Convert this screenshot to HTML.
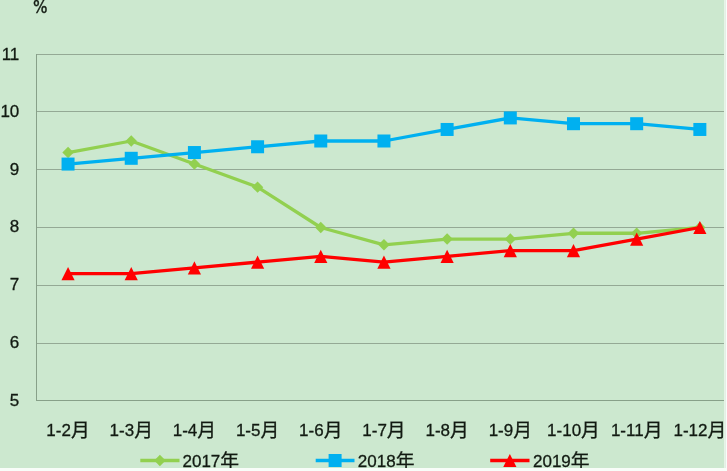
<!DOCTYPE html>
<html><head><meta charset="utf-8"><title>chart</title>
<style>
html,body{margin:0;padding:0;background:#F8FDF9;}
body{width:727px;height:471px;overflow:hidden;}
svg{display:block;will-change:transform;}
.c{font-size:18.8px;}
.t{font-family:"Liberation Sans","Noto Sans CJK SC",sans-serif;font-size:17px;fill:#121a12;stroke:#121a12;stroke-width:0.3px;}
</style></head><body>
<svg width="727" height="471" viewBox="0 0 727 471">
<defs><clipPath id="clp"><rect x="0" y="0" width="724" height="468"/></clipPath></defs>
<g clip-path="url(#clp)">
<rect x="0" y="0" width="724" height="468" fill="#CCE8CF"/>
<rect x="36" y="54" width="689" height="1" fill="#94A995"/>
<rect x="36" y="111" width="689" height="1" fill="#94A995"/>
<rect x="36" y="169" width="689" height="1" fill="#94A995"/>
<rect x="36" y="227" width="689" height="1" fill="#94A995"/>
<rect x="36" y="285" width="689" height="1" fill="#94A995"/>
<rect x="36" y="343" width="689" height="1" fill="#94A995"/>
<rect x="36" y="400" width="689" height="1" fill="#87A089"/>
<rect x="36" y="54" width="1" height="347" fill="#87A089"/>
<text x="19.3" y="60.1" text-anchor="end" class="t">11</text>
<text x="19.3" y="117.2" text-anchor="end" class="t">10</text>
<text x="19.3" y="175.3" text-anchor="end" class="t">9</text>
<text x="19.3" y="232.4" text-anchor="end" class="t">8</text>
<text x="19.3" y="290.0" text-anchor="end" class="t">7</text>
<text x="19.3" y="347.8" text-anchor="end" class="t">6</text>
<text x="19.3" y="406.1" text-anchor="end" class="t">5</text>
<text transform="translate(32.9,12.6) scale(0.87,1)" x="0" y="0" class="t" style="font-family:'DejaVu Sans',sans-serif;font-size:17.5px;stroke-width:0.45px">%</text>
<text x="68.05" y="436" text-anchor="middle" class="t">1-2<tspan class="c" dy="0.8">月</tspan></text>
<text x="131.23" y="436" text-anchor="middle" class="t">1-3<tspan class="c" dy="0.8">月</tspan></text>
<text x="194.41" y="436" text-anchor="middle" class="t">1-4<tspan class="c" dy="0.8">月</tspan></text>
<text x="257.59" y="436" text-anchor="middle" class="t">1-5<tspan class="c" dy="0.8">月</tspan></text>
<text x="320.77" y="436" text-anchor="middle" class="t">1-6<tspan class="c" dy="0.8">月</tspan></text>
<text x="383.95" y="436" text-anchor="middle" class="t">1-7<tspan class="c" dy="0.8">月</tspan></text>
<text x="447.13" y="436" text-anchor="middle" class="t">1-8<tspan class="c" dy="0.8">月</tspan></text>
<text x="510.31" y="436" text-anchor="middle" class="t">1-9<tspan class="c" dy="0.8">月</tspan></text>
<text x="573.49" y="436" text-anchor="middle" class="t">1-10<tspan class="c" dy="0.8">月</tspan></text>
<text x="636.67" y="436" text-anchor="middle" class="t">1-11<tspan class="c" dy="0.8">月</tspan></text>
<text x="699.85" y="436" text-anchor="middle" class="t">1-12<tspan class="c" dy="0.8">月</tspan></text>
<polyline points="68.05,152.53 131.23,141.00 194.41,164.07 257.59,187.13 320.77,227.50 383.95,244.80 447.13,239.03 510.31,239.03 573.49,233.27 636.67,233.27 699.85,227.50" fill="none" stroke="#92D050" stroke-width="3.3" stroke-linejoin="round" stroke-linecap="round"/>
<polygon points="68.05,146.83 73.75,152.53 68.05,158.23 62.35,152.53" fill="#92D050"/>
<polygon points="131.23,135.30 136.93,141.00 131.23,146.70 125.53,141.00" fill="#92D050"/>
<polygon points="194.41,158.37 200.11,164.07 194.41,169.77 188.71,164.07" fill="#92D050"/>
<polygon points="257.59,181.43 263.29,187.13 257.59,192.83 251.89,187.13" fill="#92D050"/>
<polygon points="320.77,221.80 326.47,227.50 320.77,233.20 315.07,227.50" fill="#92D050"/>
<polygon points="383.95,239.10 389.65,244.80 383.95,250.50 378.25,244.80" fill="#92D050"/>
<polygon points="447.13,233.33 452.83,239.03 447.13,244.73 441.43,239.03" fill="#92D050"/>
<polygon points="510.31,233.33 516.01,239.03 510.31,244.73 504.61,239.03" fill="#92D050"/>
<polygon points="573.49,227.57 579.19,233.27 573.49,238.97 567.79,233.27" fill="#92D050"/>
<polygon points="636.67,227.57 642.37,233.27 636.67,238.97 630.97,233.27" fill="#92D050"/>
<polygon points="699.85,221.80 705.55,227.50 699.85,233.20 694.15,227.50" fill="#92D050"/>
<polyline points="68.05,164.07 131.23,158.30 194.41,152.53 257.59,146.77 320.77,141.00 383.95,141.00 447.13,129.47 510.31,117.93 573.49,123.70 636.67,123.70 699.85,129.47" fill="none" stroke="#00B0F0" stroke-width="3.3" stroke-linejoin="round" stroke-linecap="round"/>
<rect x="61.55" y="157.57" width="13" height="13" fill="#00B0F0"/>
<rect x="124.73" y="151.80" width="13" height="13" fill="#00B0F0"/>
<rect x="187.91" y="146.03" width="13" height="13" fill="#00B0F0"/>
<rect x="251.09" y="140.27" width="13" height="13" fill="#00B0F0"/>
<rect x="314.27" y="134.50" width="13" height="13" fill="#00B0F0"/>
<rect x="377.45" y="134.50" width="13" height="13" fill="#00B0F0"/>
<rect x="440.63" y="122.97" width="13" height="13" fill="#00B0F0"/>
<rect x="503.81" y="111.43" width="13" height="13" fill="#00B0F0"/>
<rect x="566.99" y="117.20" width="13" height="13" fill="#00B0F0"/>
<rect x="630.17" y="117.20" width="13" height="13" fill="#00B0F0"/>
<rect x="693.35" y="122.97" width="13" height="13" fill="#00B0F0"/>
<polyline points="68.05,273.63 131.23,273.63 194.41,267.87 257.59,262.10 320.77,256.33 383.95,262.10 447.13,256.33 510.31,250.57 573.49,250.57 636.67,239.03 699.85,227.50" fill="none" stroke="#FF0000" stroke-width="3.3" stroke-linejoin="round" stroke-linecap="round"/>
<polygon points="68.05,267.03 74.65,280.23 61.45,280.23" fill="#FF0000"/>
<polygon points="131.23,267.03 137.83,280.23 124.63,280.23" fill="#FF0000"/>
<polygon points="194.41,261.27 201.01,274.47 187.81,274.47" fill="#FF0000"/>
<polygon points="257.59,255.50 264.19,268.70 250.99,268.70" fill="#FF0000"/>
<polygon points="320.77,249.73 327.37,262.93 314.17,262.93" fill="#FF0000"/>
<polygon points="383.95,255.50 390.55,268.70 377.35,268.70" fill="#FF0000"/>
<polygon points="447.13,249.73 453.73,262.93 440.53,262.93" fill="#FF0000"/>
<polygon points="510.31,243.97 516.91,257.17 503.71,257.17" fill="#FF0000"/>
<polygon points="573.49,243.97 580.09,257.17 566.89,257.17" fill="#FF0000"/>
<polygon points="636.67,232.43 643.27,245.63 630.07,245.63" fill="#FF0000"/>
<polygon points="699.85,220.90 706.45,234.10 693.25,234.10" fill="#FF0000"/>
<line x1="140.3" y1="460.5" x2="179.5" y2="460.5" stroke="#92D050" stroke-width="3.3" stroke-linecap="butt"/>
<polygon points="159.90,454.80 165.60,460.50 159.90,466.20 154.20,460.50" fill="#92D050"/>
<text x="182.5" y="467" class="t">2017<tspan class="c" dy="0.8">年</tspan></text>
<line x1="315.7" y1="460.5" x2="354.5" y2="460.5" stroke="#00B0F0" stroke-width="3.3" stroke-linecap="butt"/>
<rect x="328.60" y="454.00" width="13" height="13" fill="#00B0F0"/>
<text x="357.8" y="467" class="t">2018<tspan class="c" dy="0.8">年</tspan></text>
<line x1="490.2" y1="460.5" x2="529.5" y2="460.5" stroke="#FF0000" stroke-width="3.3" stroke-linecap="butt"/>
<polygon points="509.85,453.90 516.45,467.10 503.25,467.10" fill="#FF0000"/>
<text x="533" y="467" class="t">2019<tspan class="c" dy="0.8">年</tspan></text>
</g>
<rect x="724" y="0" width="1" height="468" fill="#E6F4E7"/><rect x="725" y="0" width="1" height="468" fill="#E4EEE6"/>
</svg>
</body></html>
